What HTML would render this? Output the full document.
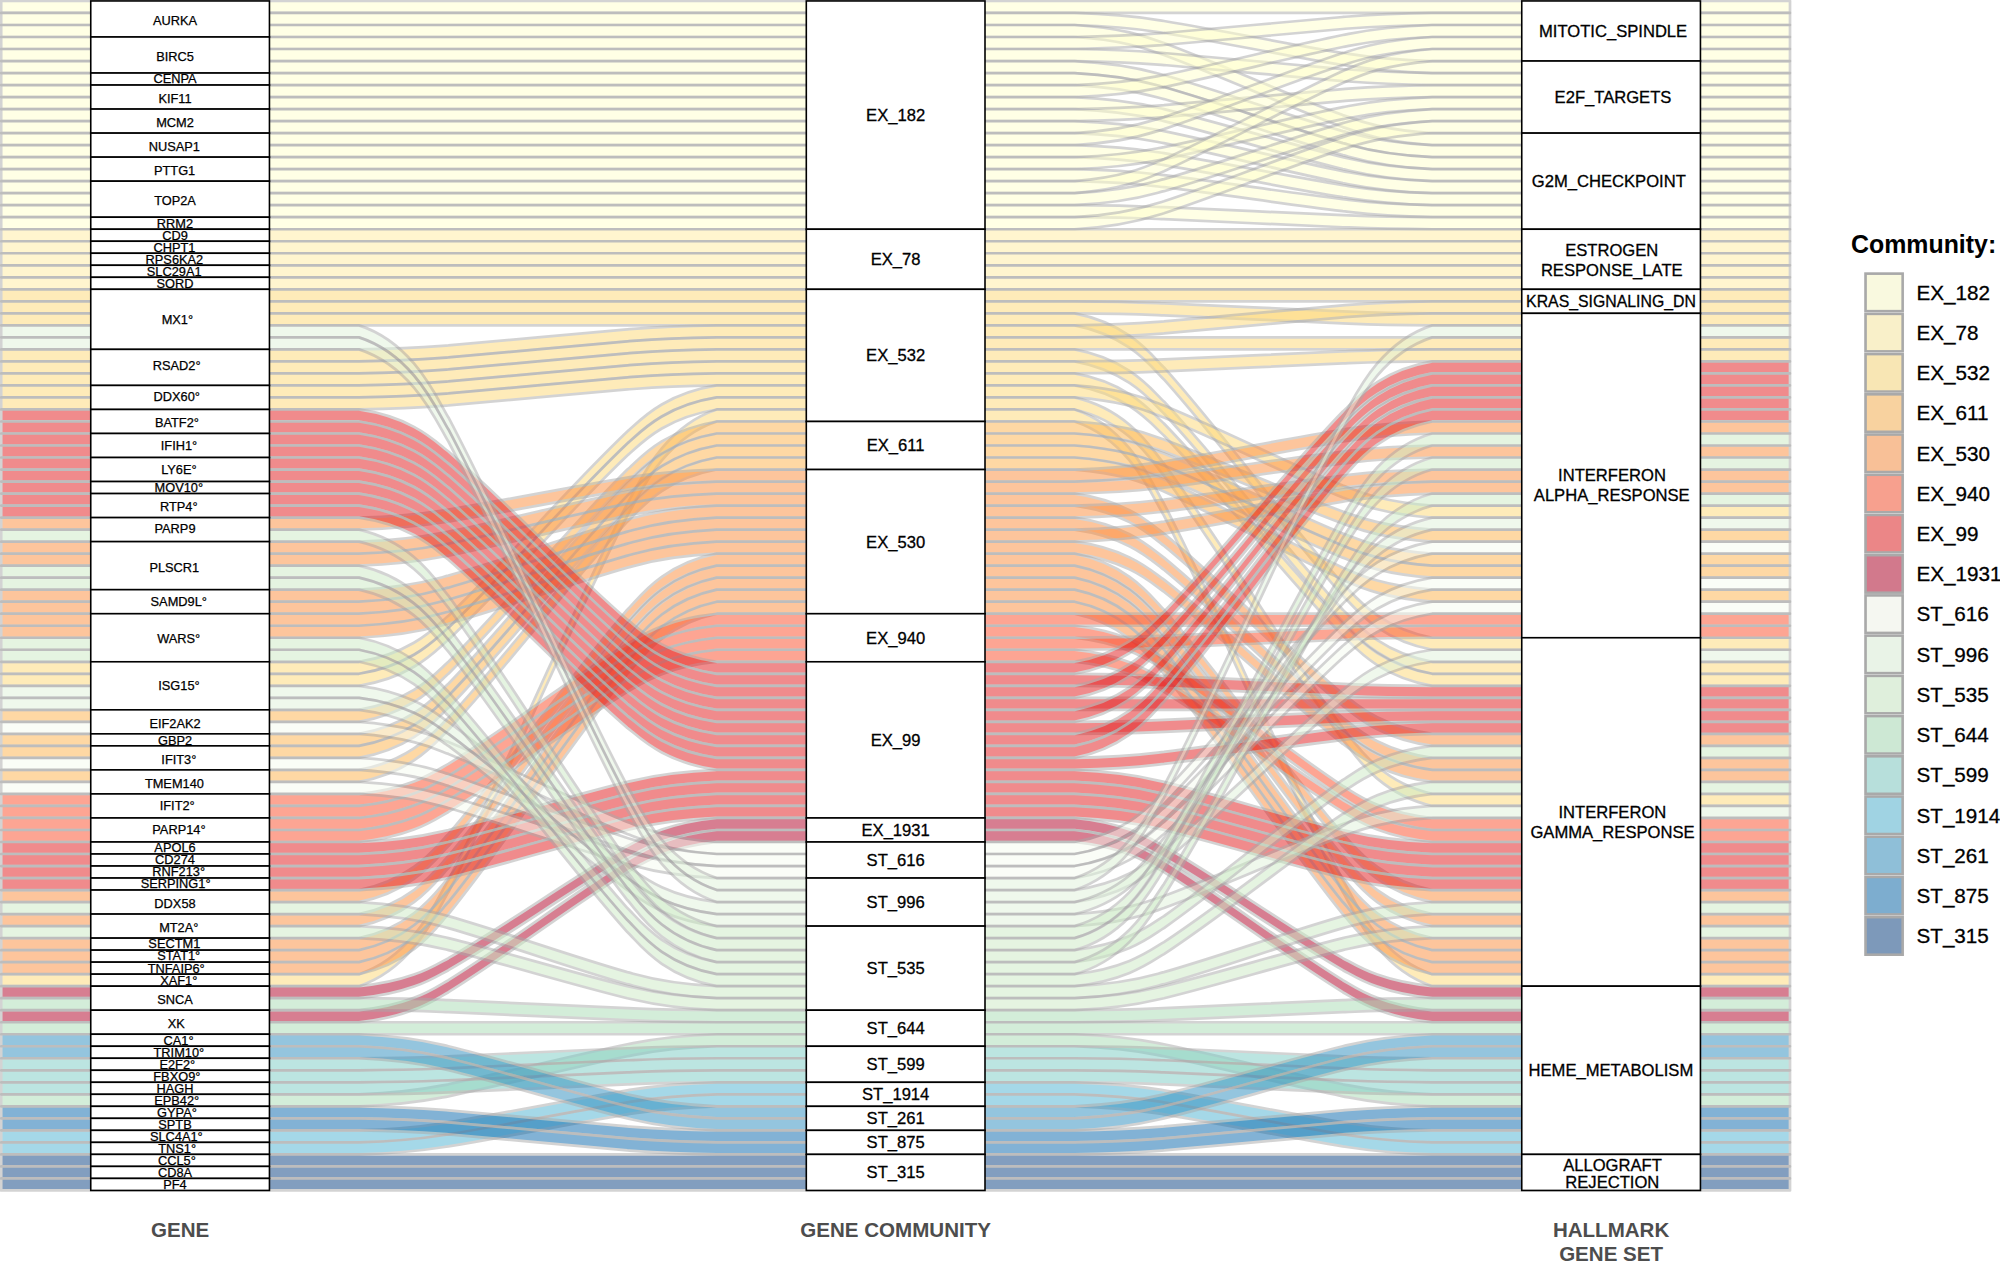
<!DOCTYPE html>
<html><head><meta charset="utf-8"><title>Alluvial</title>
<style>
html,body{margin:0;padding:0;background:#fff;}
body{width:2000px;height:1262px;overflow:hidden;}
svg{display:block;font-family:"Liberation Sans",Arial,sans-serif;}
.al path{opacity:.5}
</style></head><body>
<svg width="2000" height="1262" viewBox="0 0 2000 1262">
<rect width="2000" height="1262" fill="#fff"/>
<g stroke="#A9A9A9" stroke-width="2.7" opacity="1" stroke-linejoin="round" class="al">
<path d="M1.2 0.95H359H716.75H1074.55H1432.2H1790V12.96H1432.2H1074.55H716.75H359H1.2Z" fill="#FFFFCC"/>
<path d="M1.2 12.96H359H716.75H1074.55C1131.14 14.55 1154.16 19.69 1163.96 20.98C1228.1 31.62 1278.65 42.37 1342.79 53.02C1352.59 54.3 1375.61 59.44 1432.2 61.03H1790V73.04H1432.2C1375.61 71.46 1352.59 66.32 1342.79 65.03C1278.65 54.39 1228.1 43.63 1163.96 32.99C1154.16 31.7 1131.14 26.56 1074.55 24.98H716.75H359H1.2Z" fill="#FFFFCC"/>
<path d="M1.2 24.98H359H716.75H1074.55C1131.14 28.54 1154.16 40.1 1163.96 43C1228.1 66.95 1278.65 91.14 1342.79 115.09C1352.59 117.99 1375.61 129.55 1432.2 133.12H1790V145.13H1432.2C1375.61 141.57 1352.59 130.01 1342.79 127.11C1278.65 103.16 1228.1 78.97 1163.96 55.02C1154.16 52.12 1131.14 40.56 1074.55 37H716.75H359H1.2Z" fill="#FFFFCC"/>
<path d="M1.2 37H359H716.75H1074.55C1131.14 36.2 1154.16 33.63 1163.96 32.99C1228.1 27.67 1278.65 22.29 1342.79 16.97C1352.59 16.33 1375.61 13.76 1432.2 12.96H1790V24.98H1432.2C1375.61 25.77 1352.59 28.34 1342.79 28.98C1278.65 34.31 1228.1 39.68 1163.96 45.01C1154.16 45.65 1131.14 48.22 1074.55 49.01H716.75H359H1.2Z" fill="#FFFFCC"/>
<path d="M1.2 49.01H359H716.75H1074.55C1131.14 49.8 1154.16 52.37 1163.96 53.02C1228.1 58.34 1278.65 63.71 1342.79 69.04C1352.59 69.68 1375.61 72.25 1432.2 73.04H1790V85.06H1432.2C1375.61 84.26 1352.59 81.69 1342.79 81.05C1278.65 75.73 1228.1 70.35 1163.96 65.03C1154.16 64.39 1131.14 61.82 1074.55 61.03H716.75H359H1.2Z" fill="#FFFFCC"/>
<path d="M1.2 61.03H359H716.75H1074.55C1131.14 63.8 1154.16 72.79 1163.96 75.04C1228.1 93.67 1278.65 112.49 1342.79 131.11C1352.59 133.37 1375.61 142.36 1432.2 145.13H1790V157.14H1432.2C1375.61 154.37 1352.59 145.38 1342.79 143.13C1278.65 124.5 1228.1 105.68 1163.96 87.06C1154.16 84.8 1131.14 75.81 1074.55 73.04H716.75H359H1.2Z" fill="#FFFFCC"/>
<path d="M1.2 73.04H359H716.75H1074.55C1131.14 75.81 1154.16 84.8 1163.96 87.06C1228.1 105.68 1278.65 124.5 1342.79 143.13C1352.59 145.38 1375.61 154.37 1432.2 157.14H1790V169.16H1432.2C1375.61 166.39 1352.59 157.4 1342.79 155.14C1278.65 136.52 1228.1 117.7 1163.96 99.07C1154.16 96.82 1131.14 87.83 1074.55 85.06H716.75H359H1.2Z" fill="#FFFFCC"/>
<path d="M1.2 85.06H359H716.75H1074.55C1131.14 83.08 1154.16 76.65 1163.96 75.04C1228.1 61.74 1278.65 48.3 1342.79 34.99C1352.59 33.38 1375.61 26.96 1432.2 24.98H1790V37H1432.2C1375.61 38.97 1352.59 45.4 1342.79 47.01C1278.65 60.31 1228.1 73.75 1163.96 87.06C1154.16 88.67 1131.14 95.09 1074.55 97.07H716.75H359H1.2Z" fill="#FFFFCC"/>
<path d="M1.2 97.07H359H716.75H1074.55C1131.14 99.44 1154.16 107.15 1163.96 109.09C1228.1 125.05 1278.65 141.18 1342.79 157.15C1352.59 159.08 1375.61 166.79 1432.2 169.16H1790V181.18H1432.2C1375.61 178.8 1352.59 171.09 1342.79 169.16C1278.65 153.19 1228.1 137.07 1163.96 121.1C1154.16 119.17 1131.14 111.46 1074.55 109.09H716.75H359H1.2Z" fill="#FFFFCC"/>
<path d="M1.2 109.09H359H716.75H1074.55C1131.14 108.29 1154.16 105.72 1163.96 105.08C1228.1 99.76 1278.65 94.38 1342.79 89.06C1352.59 88.42 1375.61 85.85 1432.2 85.06H1790V97.07H1432.2C1375.61 97.86 1352.59 100.43 1342.79 101.08C1278.65 106.4 1228.1 111.77 1163.96 117.1C1154.16 117.74 1131.14 120.31 1074.55 121.1H716.75H359H1.2Z" fill="#FFFFCC"/>
<path d="M1.2 121.1H359H716.75H1074.55C1131.14 123.08 1154.16 129.5 1163.96 131.11C1228.1 144.42 1278.65 157.86 1342.79 171.16C1352.59 172.77 1375.61 179.2 1432.2 181.18H1790V193.19H1432.2C1375.61 191.21 1352.59 184.79 1342.79 183.18C1278.65 169.87 1228.1 156.43 1163.96 143.13C1154.16 141.52 1131.14 135.09 1074.55 133.12H716.75H359H1.2Z" fill="#FFFFCC"/>
<path d="M1.2 133.12H359H716.75H1074.55C1131.14 129.95 1154.16 119.67 1163.96 117.1C1228.1 95.81 1278.65 74.3 1342.79 53.02C1352.59 50.44 1375.61 40.16 1432.2 37H1790V49.01H1432.2C1375.61 52.18 1352.59 62.45 1342.79 65.03C1278.65 86.32 1228.1 107.82 1163.96 129.11C1154.16 131.69 1131.14 141.96 1074.55 145.13H716.75H359H1.2Z" fill="#FFFFCC"/>
<path d="M1.2 145.13H359H716.75H1074.55C1131.14 146.71 1154.16 151.85 1163.96 153.14C1228.1 163.78 1278.65 174.54 1342.79 185.18C1352.59 186.47 1375.61 191.61 1432.2 193.19H1790V205.2H1432.2C1375.61 203.62 1352.59 198.48 1342.79 197.19C1278.65 186.55 1228.1 175.8 1163.96 165.15C1154.16 163.87 1131.14 158.73 1074.55 157.14H716.75H359H1.2Z" fill="#FFFFCC"/>
<path d="M1.2 157.14H359H716.75H1074.55C1131.14 155.17 1154.16 148.74 1163.96 147.13C1228.1 133.83 1278.65 120.39 1342.79 107.08C1352.59 105.47 1375.61 99.05 1432.2 97.07H1790V109.09H1432.2C1375.61 111.06 1352.59 117.49 1342.79 119.1C1278.65 132.4 1228.1 145.84 1163.96 159.15C1154.16 160.76 1131.14 167.18 1074.55 169.16H716.75H359H1.2Z" fill="#FFFFCC"/>
<path d="M1.2 169.16H359H716.75H1074.55C1131.14 170.35 1154.16 174.2 1163.96 175.17C1228.1 183.15 1278.65 191.21 1342.79 199.2C1352.59 200.16 1375.61 204.02 1432.2 205.2H1790V217.22H1432.2C1375.61 216.03 1352.59 212.18 1342.79 211.21C1278.65 203.23 1228.1 195.17 1163.96 187.18C1154.16 186.22 1131.14 182.36 1074.55 181.18H716.75H359H1.2Z" fill="#FFFFCC"/>
<path d="M1.2 181.18H359H716.75H1074.55C1131.14 176.82 1154.16 162.69 1163.96 159.15C1228.1 129.88 1278.65 100.31 1342.79 71.04C1352.59 67.49 1375.61 53.36 1432.2 49.01H1790V61.03H1432.2C1375.61 65.38 1352.59 79.51 1342.79 83.05C1278.65 112.32 1228.1 141.89 1163.96 171.16C1154.16 174.71 1131.14 188.84 1074.55 193.19H716.75H359H1.2Z" fill="#FFFFCC"/>
<path d="M1.2 193.19H359H716.75H1074.55C1131.14 190.42 1154.16 181.43 1163.96 179.17C1228.1 160.55 1278.65 141.73 1342.79 123.1C1352.59 120.85 1375.61 111.86 1432.2 109.09H1790V121.1H1432.2C1375.61 123.87 1352.59 132.86 1342.79 135.12C1278.65 153.74 1228.1 172.56 1163.96 191.19C1154.16 193.44 1131.14 202.43 1074.55 205.2H716.75H359H1.2Z" fill="#FFFFCC"/>
<path d="M1.2 205.2H359H716.75H1074.55C1131.14 205.6 1154.16 206.89 1163.96 207.21C1228.1 209.87 1278.65 212.56 1342.79 215.22C1352.59 215.54 1375.61 216.82 1432.2 217.22H1790V229.24H1432.2C1375.61 228.84 1352.59 227.55 1342.79 227.23C1278.65 224.57 1228.1 221.88 1163.96 219.22C1154.16 218.9 1131.14 217.62 1074.55 217.22H716.75H359H1.2Z" fill="#FFFFCC"/>
<path d="M1.2 217.22H359H716.75H1074.55C1131.14 214.05 1154.16 203.78 1163.96 201.2C1228.1 179.91 1278.65 158.41 1342.79 137.12C1352.59 134.54 1375.61 124.27 1432.2 121.1H1790V133.12H1432.2C1375.61 136.28 1352.59 146.56 1342.79 149.14C1278.65 170.42 1228.1 191.93 1163.96 213.22C1154.16 215.79 1131.14 226.07 1074.55 229.24H716.75H359H1.2Z" fill="#FFFFCC"/>
<path d="M1.2 229.24H359H716.75H1074.55H1432.2H1790V241.25H1432.2H1074.55H716.75H359H1.2Z" fill="#FFEDA0"/>
<path d="M1.2 241.25H359H716.75H1074.55H1432.2H1790V253.26H1432.2H1074.55H716.75H359H1.2Z" fill="#FFEDA0"/>
<path d="M1.2 253.26H359H716.75H1074.55H1432.2H1790V265.28H1432.2H1074.55H716.75H359H1.2Z" fill="#FFEDA0"/>
<path d="M1.2 265.28H359H716.75H1074.55H1432.2H1790V277.3H1432.2H1074.55H716.75H359H1.2Z" fill="#FFEDA0"/>
<path d="M1.2 277.3H359H716.75H1074.55H1432.2H1790V289.31H1432.2H1074.55H716.75H359H1.2Z" fill="#FFEDA0"/>
<path d="M1.2 289.31H359H716.75H1074.55H1432.2H1790V301.32H1432.2H1074.55H716.75H359H1.2Z" fill="#FED976"/>
<path d="M1.2 301.32H359H716.75H1074.55C1131.14 301.72 1154.16 303.01 1163.96 303.33C1228.1 305.99 1278.65 308.68 1342.79 311.34C1352.59 311.66 1375.61 312.94 1432.2 313.34H1790V325.35H1432.2C1375.61 324.96 1352.59 323.67 1342.79 323.35C1278.65 320.69 1228.1 318 1163.96 315.34C1154.16 315.02 1131.14 313.74 1074.55 313.34H716.75H359H1.2Z" fill="#FED976"/>
<path d="M1.2 313.34H359H716.75H1074.55C1131.14 324.03 1154.16 358.71 1163.96 367.41C1228.1 439.25 1278.65 511.83 1342.79 583.68C1352.59 592.38 1375.61 627.06 1432.2 637.75H1790V649.76H1432.2C1375.61 639.07 1352.59 604.39 1342.79 595.69C1278.65 523.85 1228.1 451.27 1163.96 379.42C1154.16 370.72 1131.14 336.04 1074.55 325.35H716.75H359H1.2Z" fill="#FED976"/>
<path d="M1.2 349.38H359C415.61 348.59 438.63 346.02 448.44 345.38C512.59 340.06 563.16 334.68 627.31 329.36C637.12 328.72 660.14 326.15 716.75 325.36H1074.55C1131.14 324.56 1154.16 321.99 1163.96 321.35C1228.1 316.03 1278.65 310.65 1342.79 305.33C1352.59 304.69 1375.61 302.12 1432.2 301.32H1790V313.34H1432.2C1375.61 314.13 1352.59 316.7 1342.79 317.34C1278.65 322.67 1228.1 328.04 1163.96 333.37C1154.16 334.01 1131.14 336.58 1074.55 337.37H716.75C660.14 338.16 637.12 340.73 627.31 341.38C563.16 346.7 512.59 352.07 448.44 357.39C438.63 358.04 415.61 360.61 359 361.4H1.2Z" fill="#FED976"/>
<path d="M1.2 361.4H359C415.61 360.61 438.63 358.04 448.44 357.4C512.59 352.07 563.16 346.7 627.31 341.38C637.12 340.73 660.14 338.16 716.75 337.37H1074.55H1432.2H1790V349.38H1432.2H1074.55H716.75C660.14 350.18 637.12 352.75 627.31 353.39C563.16 358.71 512.59 364.09 448.44 369.41C438.63 370.05 415.61 372.62 359 373.42H1.2Z" fill="#FED976"/>
<path d="M1.2 373.42H359C415.61 372.62 438.63 370.05 448.44 369.41C512.59 364.09 563.16 358.71 627.31 353.39C637.12 352.75 660.14 350.18 716.75 349.38H1074.55C1131.14 359.68 1154.16 393.07 1163.96 401.45C1228.1 470.63 1278.65 540.53 1342.79 609.71C1352.59 618.09 1375.61 651.48 1432.2 661.78H1790V673.79H1432.2C1375.61 663.5 1352.59 630.11 1342.79 621.73C1278.65 552.54 1228.1 482.65 1163.96 413.46C1154.16 405.08 1131.14 371.69 1074.55 361.4H716.75C660.14 362.19 637.12 364.76 627.31 365.4C563.16 370.73 512.59 376.1 448.44 381.43C438.63 382.07 415.61 384.64 359 385.43H1.2Z" fill="#FED976"/>
<path d="M1.2 385.43H359C415.61 384.64 438.63 382.07 448.44 381.43C512.59 376.1 563.16 370.73 627.31 365.41C637.12 364.76 660.14 362.19 716.75 361.4H1074.55C1131.14 361 1154.16 359.72 1163.96 359.4C1228.1 356.74 1278.65 354.05 1342.79 351.39C1352.59 351.07 1375.61 349.78 1432.2 349.38H1790V361.4H1432.2C1375.61 361.8 1352.59 363.08 1342.79 363.4C1278.65 366.06 1228.1 368.75 1163.96 371.41C1154.16 371.73 1131.14 373.02 1074.55 373.42H716.75C660.14 374.21 637.12 376.78 627.31 377.42C563.16 382.74 512.59 388.12 448.44 393.44C438.63 394.08 415.61 396.65 359 397.44H1.2Z" fill="#FED976"/>
<path d="M1.2 397.44H359C415.61 396.65 438.63 394.08 448.44 393.44C512.59 388.12 563.16 382.74 627.31 377.42C637.12 376.78 660.14 374.21 716.75 373.42H1074.55C1131.14 383.31 1154.16 415.42 1163.96 423.48C1228.1 490 1278.65 557.2 1342.79 623.73C1352.59 631.79 1375.61 663.9 1432.2 673.79H1790V685.81H1432.2C1375.61 675.91 1352.59 643.8 1342.79 635.74C1278.65 569.22 1228.1 502.02 1163.96 435.49C1154.16 427.43 1131.14 395.32 1074.55 385.43H716.75C660.14 386.22 637.12 388.79 627.31 389.44C563.16 394.76 512.59 400.13 448.44 405.45C438.63 406.1 415.61 408.67 359 409.46H1.2Z" fill="#FED976"/>
<path d="M1.2 661.78H359C415.61 652.67 438.63 623.13 448.44 615.72C512.59 554.52 563.16 492.69 627.31 431.49C637.12 424.07 660.14 394.53 716.75 385.43H1074.55C1131.14 389.39 1154.16 402.23 1163.96 405.45C1228.1 432.06 1278.65 458.95 1342.79 485.56C1352.59 488.78 1375.61 501.62 1432.2 505.58H1790V517.6H1432.2C1375.61 513.64 1352.59 500.79 1342.79 497.57C1278.65 470.96 1228.1 444.08 1163.96 417.47C1154.16 414.25 1131.14 401.4 1074.55 397.44H716.75C660.14 406.55 637.12 436.09 627.31 443.5C563.16 504.7 512.59 566.53 448.44 627.73C438.63 635.15 415.61 664.69 359 673.79H1.2Z" fill="#FED976"/>
<path d="M1.2 673.79H359C415.61 664.69 438.63 635.15 448.44 627.73C512.59 566.53 563.16 504.7 627.31 443.5C637.12 436.09 660.14 406.55 716.75 397.44H1074.55C1131.14 410.51 1154.16 452.89 1163.96 463.53C1228.1 551.34 1278.65 640.05 1342.79 727.86C1352.59 738.49 1375.61 780.88 1432.2 793.94H1790V805.96H1432.2C1375.61 792.89 1352.59 750.51 1342.79 739.87C1278.65 652.06 1228.1 563.35 1163.96 475.54C1154.16 464.91 1131.14 422.52 1074.55 409.46H716.75C660.14 418.56 637.12 448.1 627.31 455.52C563.16 516.72 512.59 578.55 448.44 639.75C438.63 647.16 415.61 676.7 359 685.81H1.2Z" fill="#FED976"/>
<path d="M1.2 974.17H359C415.61 955.56 438.63 895.2 448.44 880.05C512.59 754.98 563.16 628.64 627.31 503.58C637.12 488.43 660.14 428.06 716.75 409.46H1074.55C1131.14 428.06 1154.16 488.43 1163.96 503.58C1228.1 628.64 1278.65 754.98 1342.79 880.05C1352.59 895.2 1375.61 955.56 1432.2 974.17H1790V986.18H1432.2C1375.61 967.58 1352.59 907.21 1342.79 892.06C1278.65 767 1228.1 640.66 1163.96 515.59C1154.16 500.44 1131.14 440.08 1074.55 421.47H716.75C660.14 440.08 637.12 500.44 627.31 515.59C563.16 640.66 512.59 767 448.44 892.06C438.63 907.21 415.61 967.58 359 986.18H1.2Z" fill="#FED976"/>
<path d="M1.2 709.84H359C415.61 700.34 438.63 669.51 448.44 661.78C512.59 597.91 563.16 533.4 627.31 469.54C637.12 461.8 660.14 430.97 716.75 421.48H1074.55C1131.14 425.04 1154.16 436.6 1163.96 439.5C1228.1 463.45 1278.65 487.64 1342.79 511.59C1352.59 514.49 1375.61 526.05 1432.2 529.61H1790V541.63H1432.2C1375.61 538.06 1352.59 526.5 1342.79 523.6C1278.65 499.65 1228.1 475.46 1163.96 451.51C1154.16 448.61 1131.14 437.05 1074.55 433.49H716.75C660.14 442.99 637.12 473.81 627.31 481.55C563.16 545.41 512.59 609.93 448.44 673.79C438.63 681.53 415.61 712.35 359 721.85H1.2Z" fill="#FEB24C"/>
<path d="M1.2 733.87H359C415.61 723.97 438.63 691.86 448.44 683.8C512.59 617.28 563.16 550.08 627.31 483.55C637.12 475.49 660.14 443.38 716.75 433.49H1074.55C1131.14 437.45 1154.16 450.29 1163.96 453.52C1228.1 480.12 1278.65 507.01 1342.79 533.62C1352.59 536.84 1375.61 549.68 1432.2 553.64H1790V565.66H1432.2C1375.61 561.7 1352.59 548.85 1342.79 545.63C1278.65 519.02 1228.1 492.14 1163.96 465.53C1154.16 462.31 1131.14 449.46 1074.55 445.5H716.75C660.14 455.4 637.12 487.51 627.31 495.57C563.16 562.09 512.59 629.29 448.44 695.82C438.63 703.88 415.61 735.99 359 745.88H1.2Z" fill="#FEB24C"/>
<path d="M1.2 745.88H359C415.61 735.99 438.63 703.88 448.44 695.82C512.59 629.29 563.16 562.09 627.31 495.57C637.12 487.51 660.14 455.4 716.75 445.5H1074.55C1131.14 449.46 1154.16 462.31 1163.96 465.53C1228.1 492.14 1278.65 519.02 1342.79 545.63C1352.59 548.85 1375.61 561.7 1432.2 565.66H1790V577.67H1432.2C1375.61 573.71 1352.59 560.87 1342.79 557.65C1278.65 531.04 1228.1 504.15 1163.96 477.54C1154.16 474.32 1131.14 461.48 1074.55 457.52H716.75C660.14 467.41 637.12 499.52 627.31 507.58C563.16 574.11 512.59 641.31 448.44 707.83C438.63 715.89 415.61 748 359 757.9H1.2Z" fill="#FEB24C"/>
<path d="M1.2 769.91H359C415.61 759.62 438.63 726.23 448.44 717.85C512.59 648.66 563.16 578.77 627.31 509.59C637.12 501.2 660.14 467.81 716.75 457.52H1074.55C1131.14 461.87 1154.16 476 1163.96 479.55C1228.1 508.82 1278.65 538.39 1342.79 567.66C1352.59 571.2 1375.61 585.33 1432.2 589.69H1790V601.7H1432.2C1375.61 597.35 1352.59 583.22 1342.79 579.67C1278.65 550.4 1228.1 520.83 1163.96 491.56C1154.16 488.02 1131.14 473.89 1074.55 469.54H716.75C660.14 479.83 637.12 513.22 627.31 521.6C563.16 590.78 512.59 660.68 448.44 729.86C438.63 738.24 415.61 771.63 359 781.93H1.2Z" fill="#FEB24C"/>
<path d="M1.2 517.6H359C415.61 516.01 438.63 510.87 448.44 509.59C512.59 498.94 563.16 488.19 627.31 477.55C637.12 476.26 660.14 471.12 716.75 469.54H1074.55C1131.14 467.95 1154.16 462.81 1163.96 461.53C1228.1 450.88 1278.65 440.13 1342.79 429.49C1352.59 428.2 1375.61 423.06 1432.2 421.48H1790V433.49H1432.2C1375.61 435.07 1352.59 440.21 1342.79 441.5C1278.65 452.14 1228.1 462.9 1163.96 473.54C1154.16 474.83 1131.14 479.97 1074.55 481.55H716.75C660.14 483.13 637.12 488.27 627.31 489.56C563.16 500.2 512.59 510.96 448.44 521.6C438.63 522.89 415.61 528.03 359 529.61H1.2Z" fill="#FD8D3C"/>
<path d="M1.2 541.63H359C415.61 539.65 438.63 533.22 448.44 531.61C512.59 518.31 563.16 504.87 627.31 491.56C637.12 489.95 660.14 483.53 716.75 481.55H1074.55C1131.14 480.36 1154.16 476.51 1163.96 475.54C1228.1 467.56 1278.65 459.5 1342.79 451.51C1352.59 450.55 1375.61 446.69 1432.2 445.5H1790V457.52H1432.2C1375.61 458.71 1352.59 462.56 1342.79 463.53C1278.65 471.51 1228.1 479.57 1163.96 487.56C1154.16 488.52 1131.14 492.38 1074.55 493.56H716.75C660.14 495.54 637.12 501.97 627.31 503.58C563.16 516.88 512.59 530.32 448.44 543.63C438.63 545.24 415.61 551.66 359 553.64H1.2Z" fill="#FD8D3C"/>
<path d="M1.2 553.64H359C415.61 551.66 438.63 545.24 448.44 543.63C512.59 530.32 563.16 516.88 627.31 503.58C637.12 501.97 660.14 495.54 716.75 493.56H1074.55C1131.14 501.48 1154.16 527.17 1163.96 533.62C1228.1 586.83 1278.65 640.6 1342.79 693.82C1352.59 700.26 1375.61 725.95 1432.2 733.87H1790V745.88H1432.2C1375.61 737.96 1352.59 712.28 1342.79 705.83C1278.65 652.61 1228.1 598.85 1163.96 545.63C1154.16 539.18 1131.14 513.5 1074.55 505.58H716.75C660.14 507.56 637.12 513.98 627.31 515.59C563.16 528.9 512.59 542.34 448.44 555.64C438.63 557.25 415.61 563.68 359 565.66H1.2Z" fill="#FD8D3C"/>
<path d="M1.2 589.69H359C415.61 586.91 438.63 577.92 448.44 575.67C512.59 557.04 563.16 538.22 627.31 519.6C637.12 517.34 660.14 508.35 716.75 505.58H1074.55C1131.14 504.39 1154.16 500.54 1163.96 499.57C1228.1 491.59 1278.65 483.53 1342.79 475.54C1352.59 474.58 1375.61 470.72 1432.2 469.54H1790V481.55H1432.2C1375.61 482.74 1352.59 486.59 1342.79 487.56C1278.65 495.54 1228.1 503.6 1163.96 511.59C1154.16 512.55 1131.14 516.41 1074.55 517.6H716.75C660.14 520.37 637.12 529.36 627.31 531.61C563.16 550.24 512.59 569.06 448.44 587.68C438.63 589.94 415.61 598.93 359 601.7H1.2Z" fill="#FD8D3C"/>
<path d="M1.2 601.7H359C415.61 598.93 438.63 589.94 448.44 587.68C512.59 569.06 563.16 550.24 627.31 531.61C637.12 529.36 660.14 520.37 716.75 517.6H1074.55C1131.14 525.51 1154.16 551.2 1163.96 557.64C1228.1 610.86 1278.65 664.63 1342.79 717.85C1352.59 724.29 1375.61 749.98 1432.2 757.9H1790V769.91H1432.2C1375.61 761.99 1352.59 736.31 1342.79 729.86C1278.65 676.64 1228.1 622.88 1163.96 569.66C1154.16 563.21 1131.14 537.53 1074.55 529.61H716.75C660.14 532.38 637.12 541.37 627.31 543.63C563.16 562.25 512.59 581.07 448.44 599.7C438.63 601.95 415.61 610.94 359 613.72H1.2Z" fill="#FD8D3C"/>
<path d="M1.2 613.72H359C415.61 610.94 438.63 601.95 448.44 599.7C512.59 581.07 563.16 562.25 627.31 543.63C637.12 541.37 660.14 532.38 716.75 529.61H1074.55C1131.14 528.03 1154.16 522.89 1163.96 521.6C1228.1 510.96 1278.65 500.2 1342.79 489.56C1352.59 488.27 1375.61 483.13 1432.2 481.55H1790V493.56H1432.2C1375.61 495.15 1352.59 500.29 1342.79 501.58C1278.65 512.22 1228.1 522.97 1163.96 533.62C1154.16 534.9 1131.14 540.04 1074.55 541.63H716.75C660.14 544.4 637.12 553.39 627.31 555.64C563.16 574.27 512.59 593.09 448.44 611.71C438.63 613.97 415.61 622.96 359 625.73H1.2Z" fill="#FD8D3C"/>
<path d="M1.2 625.73H359C415.61 622.96 438.63 613.97 448.44 611.71C512.59 593.09 563.16 574.27 627.31 555.64C637.12 553.39 660.14 544.4 716.75 541.63H1074.55C1131.14 549.14 1154.16 573.55 1163.96 579.67C1228.1 630.23 1278.65 681.3 1342.79 731.86C1352.59 737.99 1375.61 762.39 1432.2 769.91H1790V781.93H1432.2C1375.61 774.41 1352.59 750 1342.79 743.88C1278.65 693.32 1228.1 642.25 1163.96 591.69C1154.16 585.56 1131.14 561.16 1074.55 553.64H716.75C660.14 556.41 637.12 565.4 627.31 567.66C563.16 586.28 512.59 605.1 448.44 623.73C438.63 625.98 415.61 634.97 359 637.75H1.2Z" fill="#FD8D3C"/>
<path d="M1.2 890.06H359C415.61 878.98 438.63 843.01 448.44 833.99C512.59 759.48 563.16 684.22 627.31 609.71C637.12 600.69 660.14 564.72 716.75 553.64H1074.55C1131.14 564.72 1154.16 600.69 1163.96 609.71C1228.1 684.22 1278.65 759.48 1342.79 833.99C1352.59 843.01 1375.61 878.98 1432.2 890.06H1790V902.08H1432.2C1375.61 890.99 1352.59 855.03 1342.79 846.01C1278.65 771.5 1228.1 696.23 1163.96 621.73C1154.16 612.7 1131.14 576.74 1074.55 565.66H716.75C660.14 576.74 637.12 612.7 627.31 621.73C563.16 696.23 512.59 771.5 448.44 846.01C438.63 855.03 415.61 890.99 359 902.08H1.2Z" fill="#FD8D3C"/>
<path d="M1.2 914.09H359C415.61 902.61 438.63 865.36 448.44 856.02C512.59 778.85 563.16 700.89 627.31 623.73C637.12 614.38 660.14 577.13 716.75 565.66H1074.55C1131.14 577.13 1154.16 614.38 1163.96 623.73C1228.1 700.89 1278.65 778.85 1342.79 856.02C1352.59 865.36 1375.61 902.61 1432.2 914.09H1790V926.11H1432.2C1375.61 914.63 1352.59 877.38 1342.79 868.03C1278.65 790.87 1228.1 712.91 1163.96 635.74C1154.16 626.4 1131.14 589.15 1074.55 577.67H716.75C660.14 589.15 637.12 626.4 627.31 635.74C563.16 712.91 512.59 790.87 448.44 868.03C438.63 877.38 415.61 914.63 359 926.11H1.2Z" fill="#FD8D3C"/>
<path d="M1.2 938.12H359C415.61 926.25 438.63 887.71 448.44 878.05C512.59 798.22 563.16 717.57 627.31 637.75C637.12 628.08 660.14 589.54 716.75 577.67H1074.55C1131.14 589.54 1154.16 628.08 1163.96 637.75C1228.1 717.57 1278.65 798.22 1342.79 878.05C1352.59 887.71 1375.61 926.25 1432.2 938.12H1790V950.14H1432.2C1375.61 938.26 1352.59 899.73 1342.79 890.06C1278.65 810.23 1228.1 729.59 1163.96 649.76C1154.16 640.09 1131.14 601.56 1074.55 589.69H716.75C660.14 601.56 637.12 640.09 627.31 649.76C563.16 729.59 512.59 810.23 448.44 890.06C438.63 899.73 415.61 938.26 359 950.14H1.2Z" fill="#FD8D3C"/>
<path d="M1.2 950.14H359C415.61 938.26 438.63 899.73 448.44 890.06C512.59 810.23 563.16 729.59 627.31 649.76C637.12 640.09 660.14 601.56 716.75 589.69H1074.55C1131.14 601.56 1154.16 640.09 1163.96 649.76C1228.1 729.59 1278.65 810.23 1342.79 890.06C1352.59 899.73 1375.61 938.26 1432.2 950.14H1790V962.15H1432.2C1375.61 950.28 1352.59 911.74 1342.79 902.08C1278.65 822.25 1228.1 741.6 1163.96 661.78C1154.16 652.11 1131.14 613.57 1074.55 601.7H716.75C660.14 613.57 637.12 652.11 627.31 661.78C563.16 741.6 512.59 822.25 448.44 902.08C438.63 911.74 415.61 950.28 359 962.15H1.2Z" fill="#FD8D3C"/>
<path d="M1.2 962.15H359C415.61 950.28 438.63 911.74 448.44 902.08C512.59 822.25 563.16 741.6 627.31 661.78C637.12 652.11 660.14 613.57 716.75 601.7H1074.55C1131.14 613.57 1154.16 652.11 1163.96 661.78C1228.1 741.6 1278.65 822.25 1342.79 902.08C1352.59 911.74 1375.61 950.28 1432.2 962.15H1790V974.17H1432.2C1375.61 962.29 1352.59 923.76 1342.79 914.09C1278.65 834.26 1228.1 753.62 1163.96 673.79C1154.16 664.12 1131.14 625.59 1074.55 613.72H716.75C660.14 625.59 637.12 664.12 627.31 673.79C563.16 753.62 512.59 834.26 448.44 914.09C438.63 923.76 415.61 962.29 359 974.17H1.2Z" fill="#FD8D3C"/>
<path d="M1.2 793.94H359C415.61 788 438.63 768.74 448.44 763.9C512.59 723.99 563.16 683.67 627.31 643.75C637.12 638.92 660.14 619.65 716.75 613.72H1074.55H1432.2H1790V625.73H1432.2H1074.55H716.75C660.14 631.67 637.12 650.93 627.31 655.77C563.16 695.68 512.59 736 448.44 775.92C438.63 780.75 415.61 800.02 359 805.96H1.2Z" fill="#FC4E2A"/>
<path d="M1.2 805.96H359C415.61 800.02 438.63 780.75 448.44 775.92C512.59 736 563.16 695.68 627.31 655.77C637.12 650.93 660.14 631.67 716.75 625.73H1074.55C1131.14 632.06 1154.16 652.61 1163.96 657.77C1228.1 700.34 1278.65 743.35 1342.79 785.93C1352.59 791.09 1375.61 811.64 1432.2 817.97H1790V829.99H1432.2C1375.61 823.65 1352.59 803.1 1342.79 797.95C1278.65 755.37 1228.1 712.36 1163.96 669.78C1154.16 664.63 1131.14 644.08 1074.55 637.75H716.75C660.14 643.68 637.12 662.95 627.31 667.78C563.16 707.7 512.59 748.02 448.44 787.93C438.63 792.77 415.61 812.03 359 817.97H1.2Z" fill="#FC4E2A"/>
<path d="M1.2 817.97H359C415.61 812.03 438.63 792.77 448.44 787.93C512.59 748.02 563.16 707.7 627.31 667.78C637.12 662.95 660.14 643.68 716.75 637.75H1074.55C1131.14 637.35 1154.16 636.06 1163.96 635.74C1228.1 633.08 1278.65 630.39 1342.79 627.73C1352.59 627.41 1375.61 626.13 1432.2 625.73H1790V637.75H1432.2C1375.61 638.14 1352.59 639.43 1342.79 639.75C1278.65 642.41 1228.1 645.1 1163.96 647.76C1154.16 648.08 1131.14 649.36 1074.55 649.76H716.75C660.14 655.7 637.12 674.96 627.31 679.8C563.16 719.71 512.59 760.03 448.44 799.95C438.63 804.78 415.61 824.05 359 829.99H1.2Z" fill="#FC4E2A"/>
<path d="M1.2 829.99H359C415.61 824.05 438.63 804.78 448.44 799.95C512.59 760.03 563.16 719.71 627.31 679.8C637.12 674.96 660.14 655.7 716.75 649.76H1074.55C1131.14 655.7 1154.16 674.96 1163.96 679.8C1228.1 719.71 1278.65 760.03 1342.79 799.95C1352.59 804.78 1375.61 824.05 1432.2 829.99H1790V842H1432.2C1375.61 836.06 1352.59 816.8 1342.79 811.96C1278.65 772.05 1228.1 731.73 1163.96 691.81C1154.16 686.98 1131.14 667.71 1074.55 661.78H716.75C660.14 667.71 637.12 686.98 627.31 691.81C563.16 731.73 512.59 772.05 448.44 811.96C438.63 816.8 415.61 836.06 359 842H1.2Z" fill="#FC4E2A"/>
<path d="M1.2 409.46H359C415.61 417.77 438.63 444.74 448.44 451.51C512.59 507.39 563.16 563.84 627.31 619.72C637.12 626.49 660.14 653.46 716.75 661.78H1074.55C1131.14 651.88 1154.16 619.77 1163.96 611.71C1228.1 545.19 1278.65 477.99 1342.79 411.46C1352.59 403.4 1375.61 371.29 1432.2 361.4H1790V373.42H1432.2C1375.61 383.31 1352.59 415.42 1342.79 423.48C1278.65 490 1228.1 557.2 1163.96 623.73C1154.16 631.79 1131.14 663.9 1074.55 673.79H716.75C660.14 665.48 637.12 638.51 627.31 631.74C563.16 575.86 512.59 519.41 448.44 463.53C438.63 456.76 415.61 429.79 359 421.47H1.2Z" fill="#E31A1C"/>
<path d="M1.2 421.48H359C415.61 429.79 438.63 456.76 448.44 463.53C512.59 519.41 563.16 575.86 627.31 631.74C637.12 638.51 660.14 665.48 716.75 673.79H1074.55C1131.14 674.19 1154.16 675.47 1163.96 675.79C1228.1 678.45 1278.65 681.14 1342.79 683.8C1352.59 684.12 1375.61 685.41 1432.2 685.81H1790V697.82H1432.2C1375.61 697.42 1352.59 696.14 1342.79 695.82C1278.65 693.16 1228.1 690.47 1163.96 687.81C1154.16 687.49 1131.14 686.2 1074.55 685.81H716.75C660.14 677.49 637.12 650.52 627.31 643.75C563.16 587.87 512.59 531.42 448.44 475.54C438.63 468.77 415.61 441.8 359 433.49H1.2Z" fill="#E31A1C"/>
<path d="M1.2 433.49H359C415.61 441.8 438.63 468.77 448.44 475.54C512.59 531.42 563.16 587.87 627.31 643.75C637.12 650.52 660.14 677.49 716.75 685.81H1074.55C1131.14 675.51 1154.16 642.12 1163.96 633.74C1228.1 564.56 1278.65 494.66 1342.79 425.48C1352.59 417.1 1375.61 383.71 1432.2 373.42H1790V385.43H1432.2C1375.61 395.72 1352.59 429.11 1342.79 437.5C1278.65 506.68 1228.1 576.57 1163.96 645.76C1154.16 654.14 1131.14 687.53 1074.55 697.82H716.75C660.14 689.51 637.12 662.54 627.31 655.77C563.16 599.89 512.59 543.44 448.44 487.56C438.63 480.79 415.61 453.82 359 445.5H1.2Z" fill="#E31A1C"/>
<path d="M1.2 445.5H359C415.61 453.82 438.63 480.79 448.44 487.56C512.59 543.44 563.16 599.89 627.31 655.77C637.12 662.54 660.14 689.51 716.75 697.82H1074.55H1432.2H1790V709.84H1432.2H1074.55H716.75C660.14 701.52 637.12 674.55 627.31 667.78C563.16 611.9 512.59 555.45 448.44 499.57C438.63 492.8 415.61 465.83 359 457.52H1.2Z" fill="#E31A1C"/>
<path d="M1.2 457.52H359C415.61 465.83 438.63 492.8 448.44 499.57C512.59 555.45 563.16 611.9 627.31 667.78C637.12 674.55 660.14 701.52 716.75 709.84H1074.55C1131.14 699.15 1154.16 664.47 1163.96 655.77C1228.1 583.92 1278.65 511.34 1342.79 439.5C1352.59 430.8 1375.61 396.12 1432.2 385.43H1790V397.44H1432.2C1375.61 408.13 1352.59 442.81 1342.79 451.51C1278.65 523.36 1228.1 595.94 1163.96 667.78C1154.16 676.48 1131.14 711.16 1074.55 721.85H716.75C660.14 713.54 637.12 686.57 627.31 679.8C563.16 623.92 512.59 567.47 448.44 511.59C438.63 504.82 415.61 477.85 359 469.54H1.2Z" fill="#E31A1C"/>
<path d="M1.2 469.54H359C415.61 477.85 438.63 504.82 448.44 511.59C512.59 567.47 563.16 623.92 627.31 679.8C637.12 686.57 660.14 713.54 716.75 721.85H1074.55C1131.14 721.45 1154.16 720.17 1163.96 719.85C1228.1 717.19 1278.65 714.5 1342.79 711.84C1352.59 711.52 1375.61 710.23 1432.2 709.84H1790V721.85H1432.2C1375.61 722.25 1352.59 723.53 1342.79 723.85C1278.65 726.51 1228.1 729.2 1163.96 731.86C1154.16 732.18 1131.14 733.47 1074.55 733.87H716.75C660.14 725.55 637.12 698.58 627.31 691.81C563.16 635.93 512.59 579.48 448.44 523.6C438.63 516.83 415.61 489.86 359 481.55H1.2Z" fill="#E31A1C"/>
<path d="M1.2 481.55H359C415.61 489.86 438.63 516.83 448.44 523.6C512.59 579.48 563.16 635.93 627.31 691.81C637.12 698.58 660.14 725.55 716.75 733.87H1074.55C1131.14 722.78 1154.16 686.82 1163.96 677.8C1228.1 603.29 1278.65 528.02 1342.79 453.51C1352.59 444.49 1375.61 408.53 1432.2 397.44H1790V409.46H1432.2C1375.61 420.54 1352.59 456.51 1342.79 465.53C1278.65 540.04 1228.1 615.3 1163.96 689.81C1154.16 698.83 1131.14 734.8 1074.55 745.88H716.75C660.14 737.57 637.12 710.6 627.31 703.83C563.16 647.95 512.59 591.5 448.44 535.62C438.63 528.85 415.61 501.88 359 493.56H1.2Z" fill="#E31A1C"/>
<path d="M1.2 493.56H359C415.61 501.88 438.63 528.85 448.44 535.62C512.59 591.5 563.16 647.95 627.31 703.83C637.12 710.6 660.14 737.57 716.75 745.88H1074.55C1131.14 734.8 1154.16 698.83 1163.96 689.81C1228.1 615.3 1278.65 540.04 1342.79 465.53C1352.59 456.51 1375.61 420.54 1432.2 409.46H1790V421.47H1432.2C1375.61 432.56 1352.59 468.52 1342.79 477.54C1278.65 552.05 1228.1 627.32 1163.96 701.83C1154.16 710.85 1131.14 746.81 1074.55 757.9H716.75C660.14 749.58 637.12 722.61 627.31 715.84C563.16 659.96 512.59 603.51 448.44 547.63C438.63 540.86 415.61 513.89 359 505.58H1.2Z" fill="#E31A1C"/>
<path d="M1.2 505.58H359C415.61 513.89 438.63 540.86 448.44 547.63C512.59 603.51 563.16 659.96 627.31 715.84C637.12 722.61 660.14 749.58 716.75 757.9H1074.55C1131.14 756.71 1154.16 752.85 1163.96 751.89C1228.1 743.9 1278.65 735.84 1342.79 727.86C1352.59 726.89 1375.61 723.04 1432.2 721.85H1790V733.87H1432.2C1375.61 735.05 1352.59 738.91 1342.79 739.87C1278.65 747.86 1228.1 755.92 1163.96 763.9C1154.16 764.87 1131.14 768.72 1074.55 769.91H716.75C660.14 761.6 637.12 734.63 627.31 727.86C563.16 671.98 512.59 615.53 448.44 559.65C438.63 552.88 415.61 525.91 359 517.6H1.2Z" fill="#E31A1C"/>
<path d="M1.2 842H359C415.61 839.63 438.63 831.92 448.44 829.99C512.59 814.02 563.16 797.89 627.31 781.93C637.12 779.99 660.14 772.28 716.75 769.91H1074.55C1131.14 772.28 1154.16 779.99 1163.96 781.93C1228.1 797.89 1278.65 814.02 1342.79 829.99C1352.59 831.92 1375.61 839.63 1432.2 842H1790V854.02H1432.2C1375.61 851.64 1352.59 843.93 1342.79 842C1278.65 826.03 1228.1 809.91 1163.96 793.94C1154.16 792.01 1131.14 784.3 1074.55 781.93H716.75C660.14 784.3 637.12 792.01 627.31 793.94C563.16 809.91 512.59 826.03 448.44 842C438.63 843.93 415.61 851.64 359 854.02H1.2Z" fill="#E31A1C"/>
<path d="M1.2 854.02H359C415.61 851.64 438.63 843.93 448.44 842C512.59 826.03 563.16 809.91 627.31 793.94C637.12 792.01 660.14 784.3 716.75 781.93H1074.55C1131.14 784.3 1154.16 792.01 1163.96 793.94C1228.1 809.91 1278.65 826.03 1342.79 842C1352.59 843.93 1375.61 851.64 1432.2 854.02H1790V866.03H1432.2C1375.61 863.66 1352.59 855.95 1342.79 854.02C1278.65 838.05 1228.1 821.92 1163.96 805.96C1154.16 804.02 1131.14 796.31 1074.55 793.94H716.75C660.14 796.31 637.12 804.02 627.31 805.96C563.16 821.92 512.59 838.05 448.44 854.02C438.63 855.95 415.61 863.66 359 866.03H1.2Z" fill="#E31A1C"/>
<path d="M1.2 866.03H359C415.61 863.66 438.63 855.95 448.44 854.02C512.59 838.05 563.16 821.92 627.31 805.96C637.12 804.02 660.14 796.31 716.75 793.94H1074.55C1131.14 796.31 1154.16 804.02 1163.96 805.96C1228.1 821.92 1278.65 838.05 1342.79 854.02C1352.59 855.95 1375.61 863.66 1432.2 866.03H1790V878.05H1432.2C1375.61 875.67 1352.59 867.96 1342.79 866.03C1278.65 850.06 1228.1 833.94 1163.96 817.97C1154.16 816.04 1131.14 808.33 1074.55 805.96H716.75C660.14 808.33 637.12 816.04 627.31 817.97C563.16 833.94 512.59 850.06 448.44 866.03C438.63 867.96 415.61 875.67 359 878.05H1.2Z" fill="#E31A1C"/>
<path d="M1.2 878.05H359C415.61 875.67 438.63 867.96 448.44 866.03C512.59 850.06 563.16 833.94 627.31 817.97C637.12 816.04 660.14 808.33 716.75 805.96H1074.55C1131.14 808.33 1154.16 816.04 1163.96 817.97C1228.1 833.94 1278.65 850.06 1342.79 866.03C1352.59 867.96 1375.61 875.67 1432.2 878.05H1790V890.06H1432.2C1375.61 887.69 1352.59 879.98 1342.79 878.05C1278.65 862.08 1228.1 845.95 1163.96 829.99C1154.16 828.05 1131.14 820.34 1074.55 817.97H716.75C660.14 820.34 637.12 828.05 627.31 829.99C563.16 845.95 512.59 862.08 448.44 878.05C438.63 879.98 415.61 887.69 359 890.06H1.2Z" fill="#E31A1C"/>
<path d="M1.2 986.18H359C415.61 980.64 438.63 962.66 448.44 958.15C512.59 920.89 563.16 883.26 627.31 846C637.12 841.49 660.14 823.51 716.75 817.97H1074.55C1131.14 823.51 1154.16 841.49 1163.96 846C1228.1 883.26 1278.65 920.89 1342.79 958.15C1352.59 962.66 1375.61 980.64 1432.2 986.18H1790V998.2H1432.2C1375.61 992.65 1352.59 974.67 1342.79 970.16C1278.65 932.91 1228.1 895.27 1163.96 858.02C1154.16 853.51 1131.14 835.53 1074.55 829.99H716.75C660.14 835.53 637.12 853.51 627.31 858.02C563.16 895.27 512.59 932.91 448.44 970.16C438.63 974.67 415.61 992.65 359 998.2H1.2Z" fill="#B10026"/>
<path d="M1.2 1010.21H359C415.61 1004.27 438.63 985.01 448.44 980.17C512.59 940.26 563.16 899.94 627.31 860.02C637.12 855.19 660.14 835.92 716.75 829.99H1074.55C1131.14 835.92 1154.16 855.19 1163.96 860.02C1228.1 899.94 1278.65 940.26 1342.79 980.17C1352.59 985.01 1375.61 1004.27 1432.2 1010.21H1790V1022.23H1432.2C1375.61 1016.29 1352.59 997.02 1342.79 992.19C1278.65 952.27 1228.1 911.95 1163.96 872.04C1154.16 867.2 1131.14 847.94 1074.55 842H716.75C660.14 847.94 637.12 867.2 627.31 872.04C563.16 911.95 512.59 952.27 448.44 992.19C438.63 997.02 415.61 1016.29 359 1022.23H1.2Z" fill="#B10026"/>
<path d="M1.2 721.85H359C415.61 725.81 438.63 738.65 448.44 741.88C512.59 768.48 563.16 795.37 627.31 821.98C637.12 825.2 660.14 838.04 716.75 842H1074.55C1131.14 832.11 1154.16 800 1163.96 791.94C1228.1 725.41 1278.65 658.21 1342.79 591.69C1352.59 583.63 1375.61 551.52 1432.2 541.63H1790V553.64H1432.2C1375.61 563.53 1352.59 595.64 1342.79 603.7C1278.65 670.23 1228.1 737.43 1163.96 803.95C1154.16 812.01 1131.14 844.12 1074.55 854.02H716.75C660.14 850.06 637.12 837.21 627.31 833.99C563.16 807.38 512.59 780.5 448.44 753.89C438.63 750.67 415.61 737.82 359 733.87H1.2Z" fill="#F7FCF0"/>
<path d="M1.2 757.9H359C415.61 761.06 438.63 771.34 448.44 773.92C512.59 795.2 563.16 816.71 627.31 838C637.12 840.57 660.14 850.85 716.75 854.02H1074.55C1131.14 844.91 1154.16 815.37 1163.96 807.96C1228.1 746.76 1278.65 684.93 1342.79 623.73C1352.59 616.31 1375.61 586.77 1432.2 577.67H1790V589.69H1432.2C1375.61 598.79 1352.59 628.33 1342.79 635.74C1278.65 696.94 1228.1 758.77 1163.96 819.97C1154.16 827.39 1131.14 856.93 1074.55 866.03H716.75C660.14 862.86 637.12 852.59 627.31 850.01C563.16 828.72 512.59 807.22 448.44 785.93C438.63 783.35 415.61 773.08 359 769.91H1.2Z" fill="#F7FCF0"/>
<path d="M1.2 781.93H359C415.61 784.7 438.63 793.69 448.44 795.94C512.59 814.57 563.16 833.39 627.31 852.01C637.12 854.27 660.14 863.26 716.75 866.03H1074.55C1131.14 857.32 1154.16 829.07 1163.96 821.98C1228.1 763.43 1278.65 704.3 1342.79 645.76C1352.59 638.66 1375.61 610.41 1432.2 601.7H1790V613.72H1432.2C1375.61 622.42 1352.59 650.68 1342.79 657.77C1278.65 716.31 1228.1 775.45 1163.96 833.99C1154.16 841.08 1131.14 869.34 1074.55 878.05H716.75C660.14 875.27 637.12 866.28 627.31 864.03C563.16 845.4 512.59 826.58 448.44 807.96C438.63 805.7 415.61 796.71 359 793.94H1.2Z" fill="#F7FCF0"/>
<path d="M1.2 325.36H359C415.61 343.56 438.63 402.64 448.44 417.47C512.59 539.87 563.16 663.53 627.31 785.93C637.12 800.76 660.14 859.84 716.75 878.05H1074.55C1131.14 859.84 1154.16 800.76 1163.96 785.93C1228.1 663.53 1278.65 539.87 1342.79 417.47C1352.59 402.64 1375.61 343.56 1432.2 325.36H1790V337.37H1432.2C1375.61 355.58 1352.59 414.66 1342.79 429.49C1278.65 551.89 1228.1 675.54 1163.96 797.95C1154.16 812.77 1131.14 871.85 1074.55 890.06H716.75C660.14 871.85 637.12 812.77 627.31 797.95C563.16 675.54 512.59 551.89 448.44 429.49C438.63 414.66 415.61 355.58 359 337.37H1.2Z" fill="#E0F3DB"/>
<path d="M1.2 337.37H359C415.61 355.58 438.63 414.66 448.44 429.49C512.59 551.89 563.16 675.54 627.31 797.95C637.12 812.77 660.14 871.85 716.75 890.06H1074.55C1131.14 882.14 1154.16 856.46 1163.96 850.01C1228.1 796.79 1278.65 743.03 1342.79 689.81C1352.59 683.36 1375.61 657.68 1432.2 649.76H1790V661.78H1432.2C1375.61 669.69 1352.59 695.38 1342.79 701.83C1278.65 755.04 1228.1 808.81 1163.96 862.03C1154.16 868.47 1131.14 894.16 1074.55 902.08H716.75C660.14 883.87 637.12 824.79 627.31 809.96C563.16 687.56 512.59 563.9 448.44 441.5C438.63 426.67 415.61 367.59 359 349.38H1.2Z" fill="#E0F3DB"/>
<path d="M1.2 685.81H359C415.61 692.93 438.63 716.05 448.44 721.85C512.59 769.75 563.16 818.13 627.31 866.03C637.12 871.83 660.14 894.95 716.75 902.08H1074.55C1131.14 889.41 1154.16 848.31 1163.96 838C1228.1 752.85 1278.65 666.83 1342.79 581.67C1352.59 571.36 1375.61 530.26 1432.2 517.6H1790V529.61H1432.2C1375.61 542.27 1352.59 583.38 1342.79 593.69C1278.65 678.84 1228.1 764.86 1163.96 850.01C1154.16 860.32 1131.14 901.43 1074.55 914.09H716.75C660.14 906.97 637.12 883.85 627.31 878.05C563.16 830.15 512.59 781.76 448.44 733.87C438.63 728.06 415.61 704.94 359 697.82H1.2Z" fill="#E0F3DB"/>
<path d="M1.2 697.82H359C415.61 704.94 438.63 728.06 448.44 733.87C512.59 781.76 563.16 830.15 627.31 878.05C637.12 883.85 660.14 906.97 716.75 914.09H1074.55C1131.14 910.53 1154.16 898.97 1163.96 896.07C1228.1 872.12 1278.65 847.93 1342.79 823.98C1352.59 821.08 1375.61 809.52 1432.2 805.96H1790V817.97H1432.2C1375.61 821.53 1352.59 833.09 1342.79 835.99C1278.65 859.94 1228.1 884.13 1163.96 908.08C1154.16 910.98 1131.14 922.54 1074.55 926.11H716.75C660.14 918.98 637.12 895.86 627.31 890.06C563.16 842.16 512.59 793.78 448.44 745.88C438.63 740.08 415.61 716.96 359 709.84H1.2Z" fill="#E0F3DB"/>
<path d="M1.2 529.61H359C415.61 542.67 438.63 585.06 448.44 595.69C512.59 683.5 563.16 772.21 627.31 860.02C637.12 870.66 660.14 913.04 716.75 926.11H1074.55C1131.14 909.88 1154.16 857.22 1163.96 844C1228.1 734.9 1278.65 624.69 1342.79 515.59C1352.59 502.38 1375.61 449.72 1432.2 433.49H1790V445.5H1432.2C1375.61 461.73 1352.59 514.39 1342.79 527.61C1278.65 636.71 1228.1 746.92 1163.96 856.02C1154.16 869.23 1131.14 921.89 1074.55 938.12H716.75C660.14 925.06 637.12 882.67 627.31 872.04C563.16 784.23 512.59 695.52 448.44 607.71C438.63 597.07 415.61 554.69 359 541.63H1.2Z" fill="#CCEBC5"/>
<path d="M1.2 565.66H359C415.61 577.92 438.63 617.74 448.44 627.73C512.59 710.22 563.16 793.55 627.31 876.04C637.12 886.03 660.14 925.85 716.75 938.12H1074.55C1131.14 922.29 1154.16 870.91 1163.96 858.02C1228.1 751.58 1278.65 644.06 1342.79 537.62C1352.59 524.73 1375.61 473.35 1432.2 457.52H1790V469.54H1432.2C1375.61 485.37 1352.59 536.74 1342.79 549.63C1278.65 656.07 1228.1 763.6 1163.96 870.04C1154.16 882.93 1131.14 934.3 1074.55 950.14H716.75C660.14 937.87 637.12 898.05 627.31 888.06C563.16 805.57 512.59 722.24 448.44 639.75C438.63 629.76 415.61 589.94 359 577.67H1.2Z" fill="#CCEBC5"/>
<path d="M1.2 577.67H359C415.61 589.94 438.63 629.76 448.44 639.75C512.59 722.24 563.16 805.57 627.31 888.06C637.12 898.05 660.14 937.87 716.75 950.14H1074.55C1131.14 943.41 1154.16 921.57 1163.96 916.09C1228.1 870.86 1278.65 825.16 1342.79 779.92C1352.59 774.44 1375.61 752.61 1432.2 745.88H1790V757.9H1432.2C1375.61 764.62 1352.59 786.46 1342.79 791.94C1278.65 837.17 1228.1 882.87 1163.96 928.11C1154.16 933.59 1131.14 955.42 1074.55 962.15H716.75C660.14 949.88 637.12 910.06 627.31 900.07C563.16 817.58 512.59 734.25 448.44 651.76C438.63 641.77 415.61 601.95 359 589.69H1.2Z" fill="#CCEBC5"/>
<path d="M1.2 637.75H359C415.61 648.43 438.63 683.11 448.44 691.81C512.59 763.66 563.16 836.24 627.31 908.08C637.12 916.78 660.14 951.46 716.75 962.15H1074.55C1131.14 946.71 1154.16 896.62 1163.96 884.05C1228.1 780.28 1278.65 675.44 1342.79 571.66C1352.59 559.09 1375.61 509 1432.2 493.56H1790V505.58H1432.2C1375.61 521.02 1352.59 571.11 1342.79 583.68C1278.65 687.45 1228.1 792.29 1163.96 896.07C1154.16 908.64 1131.14 958.73 1074.55 974.17H716.75C660.14 963.48 637.12 928.8 627.31 920.1C563.16 848.25 512.59 775.67 448.44 703.83C438.63 695.13 415.61 660.45 359 649.76H1.2Z" fill="#CCEBC5"/>
<path d="M1.2 649.76H359C415.61 660.45 438.63 695.13 448.44 703.83C512.59 775.67 563.16 848.25 627.31 920.1C637.12 928.8 660.14 963.48 716.75 974.17H1074.55C1131.14 967.83 1154.16 947.28 1163.96 942.13C1228.1 899.55 1278.65 856.54 1342.79 813.97C1352.59 808.81 1375.61 788.26 1432.2 781.93H1790V793.94H1432.2C1375.61 800.27 1352.59 820.82 1342.79 825.98C1278.65 868.55 1228.1 911.56 1163.96 954.14C1154.16 959.3 1131.14 979.85 1074.55 986.18H716.75C660.14 975.49 637.12 940.81 627.31 932.11C563.16 860.27 512.59 787.69 448.44 715.84C438.63 707.14 415.61 672.46 359 661.78H1.2Z" fill="#CCEBC5"/>
<path d="M1.2 902.08H359C415.61 904.85 438.63 913.84 448.44 916.09C512.59 934.72 563.16 953.54 627.31 972.16C637.12 974.42 660.14 983.41 716.75 986.18H1074.55C1131.14 983.41 1154.16 974.42 1163.96 972.16C1228.1 953.54 1278.65 934.72 1342.79 916.09C1352.59 913.84 1375.61 904.85 1432.2 902.08H1790V914.09H1432.2C1375.61 916.86 1352.59 925.85 1342.79 928.11C1278.65 946.73 1228.1 965.55 1163.96 984.18C1154.16 986.43 1131.14 995.42 1074.55 998.2H716.75C660.14 995.42 637.12 986.43 627.31 984.18C563.16 965.55 512.59 946.73 448.44 928.11C438.63 925.85 415.61 916.86 359 914.09H1.2Z" fill="#CCEBC5"/>
<path d="M1.2 926.11H359C415.61 928.48 438.63 936.19 448.44 938.12C512.59 954.09 563.16 970.21 627.31 986.18C637.12 988.11 660.14 995.82 716.75 998.2H1074.55C1131.14 995.82 1154.16 988.11 1163.96 986.18C1228.1 970.21 1278.65 954.09 1342.79 938.12C1352.59 936.19 1375.61 928.48 1432.2 926.11H1790V938.12H1432.2C1375.61 940.49 1352.59 948.2 1342.79 950.14C1278.65 966.1 1228.1 982.23 1163.96 998.2C1154.16 1000.13 1131.14 1007.84 1074.55 1010.21H716.75C660.14 1007.84 637.12 1000.13 627.31 998.2C563.16 982.23 512.59 966.1 448.44 950.14C438.63 948.2 415.61 940.49 359 938.12H1.2Z" fill="#CCEBC5"/>
<path d="M1.2 998.2H359C415.61 998.59 438.63 999.88 448.44 1000.2C512.59 1002.86 563.16 1005.55 627.31 1008.21C637.12 1008.53 660.14 1009.81 716.75 1010.21H1074.55C1131.14 1009.81 1154.16 1008.53 1163.96 1008.21C1228.1 1005.55 1278.65 1002.86 1342.79 1000.2C1352.59 999.88 1375.61 998.59 1432.2 998.2H1790V1010.21H1432.2C1375.61 1010.61 1352.59 1011.89 1342.79 1012.21C1278.65 1014.87 1228.1 1017.56 1163.96 1020.22C1154.16 1020.54 1131.14 1021.83 1074.55 1022.23H716.75C660.14 1021.83 637.12 1020.54 627.31 1020.22C563.16 1017.56 512.59 1014.87 448.44 1012.21C438.63 1011.89 415.61 1010.61 359 1010.21H1.2Z" fill="#A8DDB5"/>
<path d="M1.2 1022.23H359H716.75H1074.55H1432.2H1790V1034.24H1432.2H1074.55H716.75H359H1.2Z" fill="#A8DDB5"/>
<path d="M1.2 1094.32H359C415.61 1092.34 438.63 1085.91 448.44 1084.3C512.59 1071 563.16 1057.56 627.31 1044.25C637.12 1042.64 660.14 1036.22 716.75 1034.24H1074.55C1131.14 1036.22 1154.16 1042.64 1163.96 1044.25C1228.1 1057.56 1278.65 1071 1342.79 1084.3C1352.59 1085.91 1375.61 1092.34 1432.2 1094.32H1790V1106.33H1432.2C1375.61 1104.35 1352.59 1097.93 1342.79 1096.32C1278.65 1083.01 1228.1 1069.57 1163.96 1056.27C1154.16 1054.66 1131.14 1048.23 1074.55 1046.26H716.75C660.14 1048.23 637.12 1054.66 627.31 1056.27C563.16 1069.57 512.59 1083.01 448.44 1096.32C438.63 1097.93 415.61 1104.35 359 1106.33H1.2Z" fill="#A8DDB5"/>
<path d="M1.2 1058.27H359C415.61 1057.87 438.63 1056.59 448.44 1056.27C512.59 1053.61 563.16 1050.92 627.31 1048.26C637.12 1047.94 660.14 1046.65 716.75 1046.26H1074.55C1131.14 1046.65 1154.16 1047.94 1163.96 1048.26C1228.1 1050.92 1278.65 1053.61 1342.79 1056.27C1352.59 1056.59 1375.61 1057.87 1432.2 1058.27H1790V1070.29H1432.2C1375.61 1069.89 1352.59 1068.6 1342.79 1068.28C1278.65 1065.62 1228.1 1062.93 1163.96 1060.27C1154.16 1059.95 1131.14 1058.67 1074.55 1058.27H716.75C660.14 1058.67 637.12 1059.95 627.31 1060.27C563.16 1062.93 512.59 1065.62 448.44 1068.28C438.63 1068.6 415.61 1069.89 359 1070.29H1.2Z" fill="#7BCCC4"/>
<path d="M1.2 1070.29H359C415.61 1069.89 438.63 1068.6 448.44 1068.28C512.59 1065.62 563.16 1062.93 627.31 1060.27C637.12 1059.95 660.14 1058.67 716.75 1058.27H1074.55C1131.14 1058.67 1154.16 1059.95 1163.96 1060.27C1228.1 1062.93 1278.65 1065.62 1342.79 1068.28C1352.59 1068.6 1375.61 1069.89 1432.2 1070.29H1790V1082.3H1432.2C1375.61 1081.9 1352.59 1080.62 1342.79 1080.3C1278.65 1077.64 1228.1 1074.95 1163.96 1072.29C1154.16 1071.97 1131.14 1070.68 1074.55 1070.29H716.75C660.14 1070.68 637.12 1071.97 627.31 1072.29C563.16 1074.95 512.59 1077.64 448.44 1080.3C438.63 1080.62 415.61 1081.9 359 1082.3H1.2Z" fill="#7BCCC4"/>
<path d="M1.2 1082.3H359C415.61 1081.9 438.63 1080.62 448.44 1080.3C512.59 1077.64 563.16 1074.95 627.31 1072.29C637.12 1071.97 660.14 1070.68 716.75 1070.29H1074.55C1131.14 1070.68 1154.16 1071.97 1163.96 1072.29C1228.1 1074.95 1278.65 1077.64 1342.79 1080.3C1352.59 1080.62 1375.61 1081.9 1432.2 1082.3H1790V1094.32H1432.2C1375.61 1093.92 1352.59 1092.63 1342.79 1092.31C1278.65 1089.65 1228.1 1086.96 1163.96 1084.3C1154.16 1083.98 1131.14 1082.7 1074.55 1082.3H716.75C660.14 1082.7 637.12 1083.98 627.31 1084.3C563.16 1086.96 512.59 1089.65 448.44 1092.31C438.63 1092.63 415.61 1093.92 359 1094.32H1.2Z" fill="#7BCCC4"/>
<path d="M1.2 1130.36H359C415.61 1128.78 438.63 1123.64 448.44 1122.35C512.59 1111.71 563.16 1100.95 627.31 1090.31C637.12 1089.02 660.14 1083.88 716.75 1082.3H1074.55C1131.14 1083.88 1154.16 1089.02 1163.96 1090.31C1228.1 1100.95 1278.65 1111.71 1342.79 1122.35C1352.59 1123.64 1375.61 1128.78 1432.2 1130.36H1790V1142.38H1432.2C1375.61 1140.79 1352.59 1135.65 1342.79 1134.37C1278.65 1123.72 1228.1 1112.97 1163.96 1102.33C1154.16 1101.04 1131.14 1095.9 1074.55 1094.32H716.75C660.14 1095.9 637.12 1101.04 627.31 1102.33C563.16 1112.97 512.59 1123.72 448.44 1134.37C438.63 1135.65 415.61 1140.79 359 1142.38H1.2Z" fill="#4EB3D3"/>
<path d="M1.2 1142.38H359C415.61 1140.79 438.63 1135.65 448.44 1134.37C512.59 1123.72 563.16 1112.97 627.31 1102.33C637.12 1101.04 660.14 1095.9 716.75 1094.32H1074.55C1131.14 1095.9 1154.16 1101.04 1163.96 1102.33C1228.1 1112.97 1278.65 1123.72 1342.79 1134.37C1352.59 1135.65 1375.61 1140.79 1432.2 1142.38H1790V1154.39H1432.2C1375.61 1152.81 1352.59 1147.67 1342.79 1146.38C1278.65 1135.74 1228.1 1124.98 1163.96 1114.34C1154.16 1113.05 1131.14 1107.91 1074.55 1106.33H716.75C660.14 1107.91 637.12 1113.05 627.31 1114.34C563.16 1124.98 512.59 1135.74 448.44 1146.38C438.63 1147.67 415.61 1152.81 359 1154.39H1.2Z" fill="#4EB3D3"/>
<path d="M1.2 1034.24H359C415.61 1036.61 438.63 1044.32 448.44 1046.26C512.59 1062.22 563.16 1078.35 627.31 1094.32C637.12 1096.25 660.14 1103.96 716.75 1106.33H1074.55C1131.14 1103.96 1154.16 1096.25 1163.96 1094.32C1228.1 1078.35 1278.65 1062.22 1342.79 1046.26C1352.59 1044.32 1375.61 1036.61 1432.2 1034.24H1790V1046.26H1432.2C1375.61 1048.63 1352.59 1056.34 1342.79 1058.27C1278.65 1074.24 1228.1 1090.36 1163.96 1106.33C1154.16 1108.26 1131.14 1115.97 1074.55 1118.35H716.75C660.14 1115.97 637.12 1108.26 627.31 1106.33C563.16 1090.36 512.59 1074.24 448.44 1058.27C438.63 1056.34 415.61 1048.63 359 1046.26H1.2Z" fill="#2B8CBE"/>
<path d="M1.2 1046.26H359C415.61 1048.63 438.63 1056.34 448.44 1058.27C512.59 1074.24 563.16 1090.36 627.31 1106.33C637.12 1108.26 660.14 1115.97 716.75 1118.35H1074.55C1131.14 1115.97 1154.16 1108.26 1163.96 1106.33C1228.1 1090.36 1278.65 1074.24 1342.79 1058.27C1352.59 1056.34 1375.61 1048.63 1432.2 1046.26H1790V1058.27H1432.2C1375.61 1060.64 1352.59 1068.35 1342.79 1070.29C1278.65 1086.25 1228.1 1102.38 1163.96 1118.35C1154.16 1120.28 1131.14 1127.99 1074.55 1130.36H716.75C660.14 1127.99 637.12 1120.28 627.31 1118.35C563.16 1102.38 512.59 1086.25 448.44 1070.29C438.63 1068.35 415.61 1060.64 359 1058.27H1.2Z" fill="#2B8CBE"/>
<path d="M1.2 1106.33H359C415.61 1107.12 438.63 1109.69 448.44 1110.34C512.59 1115.66 563.16 1121.03 627.31 1126.36C637.12 1127 660.14 1129.57 716.75 1130.36H1074.55C1131.14 1129.57 1154.16 1127 1163.96 1126.36C1228.1 1121.03 1278.65 1115.66 1342.79 1110.34C1352.59 1109.69 1375.61 1107.12 1432.2 1106.33H1790V1118.35H1432.2C1375.61 1119.14 1352.59 1121.71 1342.79 1122.35C1278.65 1127.67 1228.1 1133.05 1163.96 1138.37C1154.16 1139.01 1131.14 1141.58 1074.55 1142.38H716.75C660.14 1141.58 637.12 1139.01 627.31 1138.37C563.16 1133.05 512.59 1127.67 448.44 1122.35C438.63 1121.71 415.61 1119.14 359 1118.35H1.2Z" fill="#0868AC"/>
<path d="M1.2 1118.35H359C415.61 1119.14 438.63 1121.71 448.44 1122.35C512.59 1127.67 563.16 1133.05 627.31 1138.37C637.12 1139.01 660.14 1141.58 716.75 1142.38H1074.55C1131.14 1141.58 1154.16 1139.01 1163.96 1138.37C1228.1 1133.05 1278.65 1127.67 1342.79 1122.35C1352.59 1121.71 1375.61 1119.14 1432.2 1118.35H1790V1130.36H1432.2C1375.61 1131.15 1352.59 1133.72 1342.79 1134.37C1278.65 1139.69 1228.1 1145.06 1163.96 1150.39C1154.16 1151.03 1131.14 1153.6 1074.55 1154.39H716.75C660.14 1153.6 637.12 1151.03 627.31 1150.39C563.16 1145.06 512.59 1139.69 448.44 1134.37C438.63 1133.72 415.61 1131.15 359 1130.36H1.2Z" fill="#0868AC"/>
<path d="M1.2 1154.39H359H716.75H1074.55H1432.2H1790V1166.41H1432.2H1074.55H716.75H359H1.2Z" fill="#084081"/>
<path d="M1.2 1166.41H359H716.75H1074.55H1432.2H1790V1178.42H1432.2H1074.55H716.75H359H1.2Z" fill="#084081"/>
<path d="M1.2 1178.42H359H716.75H1074.55H1432.2H1790V1190.44H1432.2H1074.55H716.75H359H1.2Z" fill="#084081"/>
</g>
<g fill="#fff" stroke="#000" stroke-width="1.6" stroke-linejoin="miter"><rect x="90.75" y="0.95" width="178.7" height="36.05"/><rect x="90.75" y="37" width="178.7" height="36.05"/><rect x="90.75" y="73.04" width="178.7" height="12.02"/><rect x="90.75" y="85.06" width="178.7" height="24.03"/><rect x="90.75" y="109.09" width="178.7" height="24.03"/><rect x="90.75" y="133.12" width="178.7" height="24.03"/><rect x="90.75" y="157.14" width="178.7" height="24.03"/><rect x="90.75" y="181.18" width="178.7" height="36.05"/><rect x="90.75" y="217.22" width="178.7" height="12.02"/><rect x="90.75" y="229.24" width="178.7" height="12.02"/><rect x="90.75" y="241.25" width="178.7" height="12.02"/><rect x="90.75" y="253.26" width="178.7" height="12.02"/><rect x="90.75" y="265.28" width="178.7" height="12.02"/><rect x="90.75" y="277.3" width="178.7" height="12.02"/><rect x="90.75" y="289.31" width="178.7" height="60.08"/><rect x="90.75" y="349.38" width="178.7" height="36.05"/><rect x="90.75" y="385.43" width="178.7" height="24.03"/><rect x="90.75" y="409.46" width="178.7" height="24.03"/><rect x="90.75" y="433.49" width="178.7" height="24.03"/><rect x="90.75" y="457.52" width="178.7" height="24.03"/><rect x="90.75" y="481.55" width="178.7" height="12.02"/><rect x="90.75" y="493.56" width="178.7" height="24.03"/><rect x="90.75" y="517.6" width="178.7" height="24.03"/><rect x="90.75" y="541.63" width="178.7" height="48.06"/><rect x="90.75" y="589.69" width="178.7" height="24.03"/><rect x="90.75" y="613.72" width="178.7" height="48.06"/><rect x="90.75" y="661.78" width="178.7" height="48.06"/><rect x="90.75" y="709.84" width="178.7" height="24.03"/><rect x="90.75" y="733.87" width="178.7" height="12.02"/><rect x="90.75" y="745.88" width="178.7" height="24.03"/><rect x="90.75" y="769.91" width="178.7" height="24.03"/><rect x="90.75" y="793.94" width="178.7" height="24.03"/><rect x="90.75" y="817.97" width="178.7" height="24.03"/><rect x="90.75" y="842" width="178.7" height="12.02"/><rect x="90.75" y="854.02" width="178.7" height="12.02"/><rect x="90.75" y="866.03" width="178.7" height="12.02"/><rect x="90.75" y="878.05" width="178.7" height="12.02"/><rect x="90.75" y="890.06" width="178.7" height="24.03"/><rect x="90.75" y="914.09" width="178.7" height="24.03"/><rect x="90.75" y="938.12" width="178.7" height="12.02"/><rect x="90.75" y="950.14" width="178.7" height="12.02"/><rect x="90.75" y="962.15" width="178.7" height="12.02"/><rect x="90.75" y="974.17" width="178.7" height="12.02"/><rect x="90.75" y="986.18" width="178.7" height="24.03"/><rect x="90.75" y="1010.21" width="178.7" height="24.03"/><rect x="90.75" y="1034.24" width="178.7" height="12.02"/><rect x="90.75" y="1046.26" width="178.7" height="12.02"/><rect x="90.75" y="1058.27" width="178.7" height="12.02"/><rect x="90.75" y="1070.29" width="178.7" height="12.02"/><rect x="90.75" y="1082.3" width="178.7" height="12.02"/><rect x="90.75" y="1094.32" width="178.7" height="12.02"/><rect x="90.75" y="1106.33" width="178.7" height="12.02"/><rect x="90.75" y="1118.35" width="178.7" height="12.02"/><rect x="90.75" y="1130.36" width="178.7" height="12.02"/><rect x="90.75" y="1142.38" width="178.7" height="12.02"/><rect x="90.75" y="1154.39" width="178.7" height="12.02"/><rect x="90.75" y="1166.41" width="178.7" height="12.02"/><rect x="90.75" y="1178.42" width="178.7" height="12.02"/></g>
<g font-size="12.8" text-anchor="middle" fill="#000" stroke="#000" stroke-width="0.25"><text x="175" y="24.82">AURKA</text><text x="175" y="60.97">BIRC5</text><text x="175" y="83.4">CENPA</text><text x="175" y="102.92">KIF11</text><text x="175" y="127.1">MCM2</text><text x="174.3" y="150.98">NUSAP1</text><text x="174.6" y="174.91">PTTG1</text><text x="175" y="205">TOP2A</text><text x="175" y="227.58">RRM2</text><text x="175" y="239.59">CD9</text><text x="174.5" y="251.61">CHPT1</text><text x="174.4" y="263.62">RPS6KA2</text><text x="174.2" y="275.64">SLC29A1</text><text x="175" y="287.65">SORD</text><text x="177.4" y="324.1">MX1°</text><text x="176.7" y="369.76">RSAD2°</text><text x="176.7" y="400.8">DDX60°</text><text x="176.9" y="426.52">BATF2°</text><text x="179" y="449.95">IFIH1°</text><text x="178.9" y="474.09">LY6E°</text><text x="178.8" y="491.91">MOV10°</text><text x="178.75" y="510.93">RTP4°</text><text x="175" y="533.16">PARP9</text><text x="174.3" y="571.61">PLSCR1</text><text x="178.75" y="606.4">SAMD9L°</text><text x="178.65" y="642.69">WARS°</text><text x="178.95" y="690.11">ISG15°</text><text x="175" y="727.8">EIF2AK2</text><text x="175" y="745.22">GBP2</text><text x="178.85" y="763.85">IFIT3°</text><text x="174.4" y="787.58">TMEM140</text><text x="177.2" y="810">IFIT2°</text><text x="178.9" y="833.74">PARP14°</text><text x="175" y="852.36">APOL6</text><text x="175" y="864.37">CD274</text><text x="178.7" y="876.39">RNF213°</text><text x="175.6" y="888.4">SERPING1°</text><text x="175" y="908.12">DDX58</text><text x="178.75" y="931.76">MT2A°</text><text x="174.3" y="948.48">SECTM1</text><text x="178.7" y="960.49">STAT1°</text><text x="176.2" y="972.51">TNFAIP6°</text><text x="178.75" y="984.52">XAF1°</text><text x="175" y="1004">SNCA</text><text x="176.2" y="1028.38">XK</text><text x="178.6" y="1044.6">CA1°</text><text x="178.85" y="1056.61">TRIM10°</text><text x="177.3" y="1068.63">E2F2°</text><text x="176.85" y="1080.64">FBXO9°</text><text x="175" y="1092.66">HAGH</text><text x="176.7" y="1104.67">EPB42°</text><text x="176.95" y="1116.69">GYPA°</text><text x="175" y="1128.7">SPTB</text><text x="176.3" y="1140.72">SLC4A1°</text><text x="177.15" y="1152.73">TNS1°</text><text x="176.9" y="1164.75">CCL5°</text><text x="175" y="1176.76">CD8A</text><text x="175" y="1188.78">PF4</text></g>
<g fill="#fff" stroke="#000" stroke-width="1.6" stroke-linejoin="miter"><rect x="806.3" y="0.95" width="178.7" height="228.29"/><rect x="806.3" y="229.24" width="178.7" height="60.08"/><rect x="806.3" y="289.31" width="178.7" height="132.17"/><rect x="806.3" y="421.48" width="178.7" height="48.06"/><rect x="806.3" y="469.54" width="178.7" height="144.18"/><rect x="806.3" y="613.72" width="178.7" height="48.06"/><rect x="806.3" y="661.78" width="178.7" height="156.19"/><rect x="806.3" y="817.97" width="178.7" height="24.03"/><rect x="806.3" y="842" width="178.7" height="36.05"/><rect x="806.3" y="878.05" width="178.7" height="48.06"/><rect x="806.3" y="926.11" width="178.7" height="84.11"/><rect x="806.3" y="1010.21" width="178.7" height="36.05"/><rect x="806.3" y="1046.26" width="178.7" height="36.05"/><rect x="806.3" y="1082.3" width="178.7" height="24.03"/><rect x="806.3" y="1106.33" width="178.7" height="24.03"/><rect x="806.3" y="1130.36" width="178.7" height="24.03"/><rect x="806.3" y="1154.39" width="178.7" height="36.05"/></g>
<g font-size="16.6" text-anchor="middle" fill="#000" stroke="#000" stroke-width="0.3"><text x="895.65" y="121.04">EX_182</text><text x="895.65" y="265.22">EX_78</text><text x="895.65" y="361.34">EX_532</text><text x="895.65" y="451.45">EX_611</text><text x="895.65" y="547.57">EX_530</text><text x="895.65" y="643.69">EX_940</text><text x="895.65" y="745.82">EX_99</text><text x="895.65" y="835.93">EX_1931</text><text x="895.65" y="865.97">ST_616</text><text x="895.65" y="908.02">ST_996</text><text x="895.65" y="974.1">ST_535</text><text x="895.65" y="1034.18">ST_644</text><text x="895.65" y="1070.22">ST_599</text><text x="895.65" y="1100.26">ST_1914</text><text x="895.65" y="1124.29">ST_261</text><text x="895.65" y="1148.32">ST_875</text><text x="895.65" y="1178.36">ST_315</text></g>
<g fill="#fff" stroke="#000" stroke-width="1.6" stroke-linejoin="miter"><rect x="1521.75" y="0.95" width="178.7" height="60.08"/><rect x="1521.75" y="61.03" width="178.7" height="72.09"/><rect x="1521.75" y="133.12" width="178.7" height="96.12"/><rect x="1521.75" y="229.24" width="178.7" height="60.08"/><rect x="1521.75" y="289.31" width="178.7" height="24.03"/><rect x="1521.75" y="313.34" width="178.7" height="324.41"/><rect x="1521.75" y="637.75" width="178.7" height="348.44"/><rect x="1521.75" y="986.18" width="178.7" height="168.21"/><rect x="1521.75" y="1154.39" width="178.7" height="36.05"/></g>
<g font-size="16.6" text-anchor="middle" fill="#000" stroke="#000" stroke-width="0.3"><text x="1613.1" y="36.8">MITOTIC_SPINDLE</text><text x="1613" y="102.8">E2F_TARGETS</text><text x="1608.8" y="187">G2M_CHECKPOINT</text><text x="1611.7" y="255.8">ESTROGEN</text><text x="1611.75" y="275.8">RESPONSE_LATE</text><text x="1611" y="307" textLength="169.8" lengthAdjust="spacingAndGlyphs">KRAS_SIGNALING_DN</text><text x="1612" y="481.3">INTERFERON</text><text x="1611.75" y="501.2">ALPHA_RESPONSE</text><text x="1612.35" y="818">INTERFERON</text><text x="1612.5" y="837.8">GAMMA_RESPONSE</text><text x="1610.9" y="1076.4">HEME_METABOLISM</text><text x="1612.5" y="1171.3">ALLOGRAFT</text><text x="1612.35" y="1187.8">REJECTION</text></g>
<g font-size="20.55" font-weight="bold" fill="#4D4D4D" text-anchor="middle"><text x="180.1" y="1236.6">GENE</text><text x="895.65" y="1236.6">GENE COMMUNITY</text><text x="1611.1" y="1236.6">HALLMARK</text><text x="1611.1" y="1261.4">GENE SET</text></g>
<text x="1851" y="253" font-size="24.9" font-weight="bold" fill="#000">Community:</text>
<g><rect x="1864.1" y="272.15" width="40" height="40.22" fill="#F2F2F2" stroke="none"/><rect x="1865.55" y="273.65" width="37.1" height="37.52" fill="#FFFFCC" fill-opacity="0.5" stroke="#A9A9A9" stroke-width="2.6"/><rect x="1864.1" y="312.37" width="40" height="40.22" fill="#F2F2F2" stroke="none"/><rect x="1865.55" y="313.87" width="37.1" height="37.52" fill="#FFEDA0" fill-opacity="0.5" stroke="#A9A9A9" stroke-width="2.6"/><rect x="1864.1" y="352.59" width="40" height="40.22" fill="#F2F2F2" stroke="none"/><rect x="1865.55" y="354.09" width="37.1" height="37.52" fill="#FED976" fill-opacity="0.5" stroke="#A9A9A9" stroke-width="2.6"/><rect x="1864.1" y="392.81" width="40" height="40.22" fill="#F2F2F2" stroke="none"/><rect x="1865.55" y="394.31" width="37.1" height="37.52" fill="#FEB24C" fill-opacity="0.5" stroke="#A9A9A9" stroke-width="2.6"/><rect x="1864.1" y="433.03" width="40" height="40.22" fill="#F2F2F2" stroke="none"/><rect x="1865.55" y="434.53" width="37.1" height="37.52" fill="#FD8D3C" fill-opacity="0.5" stroke="#A9A9A9" stroke-width="2.6"/><rect x="1864.1" y="473.25" width="40" height="40.22" fill="#F2F2F2" stroke="none"/><rect x="1865.55" y="474.75" width="37.1" height="37.52" fill="#FC4E2A" fill-opacity="0.5" stroke="#A9A9A9" stroke-width="2.6"/><rect x="1864.1" y="513.47" width="40" height="40.22" fill="#F2F2F2" stroke="none"/><rect x="1865.55" y="514.97" width="37.1" height="37.52" fill="#E31A1C" fill-opacity="0.5" stroke="#A9A9A9" stroke-width="2.6"/><rect x="1864.1" y="553.69" width="40" height="40.22" fill="#F2F2F2" stroke="none"/><rect x="1865.55" y="555.19" width="37.1" height="37.52" fill="#B10026" fill-opacity="0.5" stroke="#A9A9A9" stroke-width="2.6"/><rect x="1864.1" y="593.91" width="40" height="40.22" fill="#F2F2F2" stroke="none"/><rect x="1865.55" y="595.41" width="37.1" height="37.52" fill="#F7FCF0" fill-opacity="0.5" stroke="#A9A9A9" stroke-width="2.6"/><rect x="1864.1" y="634.13" width="40" height="40.22" fill="#F2F2F2" stroke="none"/><rect x="1865.55" y="635.63" width="37.1" height="37.52" fill="#E0F3DB" fill-opacity="0.5" stroke="#A9A9A9" stroke-width="2.6"/><rect x="1864.1" y="674.35" width="40" height="40.22" fill="#F2F2F2" stroke="none"/><rect x="1865.55" y="675.85" width="37.1" height="37.52" fill="#CCEBC5" fill-opacity="0.5" stroke="#A9A9A9" stroke-width="2.6"/><rect x="1864.1" y="714.57" width="40" height="40.22" fill="#F2F2F2" stroke="none"/><rect x="1865.55" y="716.07" width="37.1" height="37.52" fill="#A8DDB5" fill-opacity="0.5" stroke="#A9A9A9" stroke-width="2.6"/><rect x="1864.1" y="754.79" width="40" height="40.22" fill="#F2F2F2" stroke="none"/><rect x="1865.55" y="756.29" width="37.1" height="37.52" fill="#7BCCC4" fill-opacity="0.5" stroke="#A9A9A9" stroke-width="2.6"/><rect x="1864.1" y="795.01" width="40" height="40.22" fill="#F2F2F2" stroke="none"/><rect x="1865.55" y="796.51" width="37.1" height="37.52" fill="#4EB3D3" fill-opacity="0.5" stroke="#A9A9A9" stroke-width="2.6"/><rect x="1864.1" y="835.23" width="40" height="40.22" fill="#F2F2F2" stroke="none"/><rect x="1865.55" y="836.73" width="37.1" height="37.52" fill="#2B8CBE" fill-opacity="0.5" stroke="#A9A9A9" stroke-width="2.6"/><rect x="1864.1" y="875.45" width="40" height="40.22" fill="#F2F2F2" stroke="none"/><rect x="1865.55" y="876.95" width="37.1" height="37.52" fill="#0868AC" fill-opacity="0.5" stroke="#A9A9A9" stroke-width="2.6"/><rect x="1864.1" y="915.67" width="40" height="40.22" fill="#F2F2F2" stroke="none"/><rect x="1865.55" y="917.17" width="37.1" height="37.52" fill="#084081" fill-opacity="0.5" stroke="#A9A9A9" stroke-width="2.6"/></g>
<g font-size="20.65" fill="#000" stroke="#000" stroke-width="0.3"><text x="1916.5" y="299.71">EX_182</text><text x="1916.5" y="339.93">EX_78</text><text x="1916.5" y="380.15">EX_532</text><text x="1916.5" y="420.37">EX_611</text><text x="1916.5" y="460.59">EX_530</text><text x="1916.5" y="500.81">EX_940</text><text x="1916.5" y="541.03">EX_99</text><text x="1916.5" y="581.25">EX_1931</text><text x="1916.5" y="621.47">ST_616</text><text x="1916.5" y="661.69">ST_996</text><text x="1916.5" y="701.91">ST_535</text><text x="1916.5" y="742.13">ST_644</text><text x="1916.5" y="782.35">ST_599</text><text x="1916.5" y="822.57">ST_1914</text><text x="1916.5" y="862.79">ST_261</text><text x="1916.5" y="903.01">ST_875</text><text x="1916.5" y="943.23">ST_315</text></g>
</svg></body></html>
